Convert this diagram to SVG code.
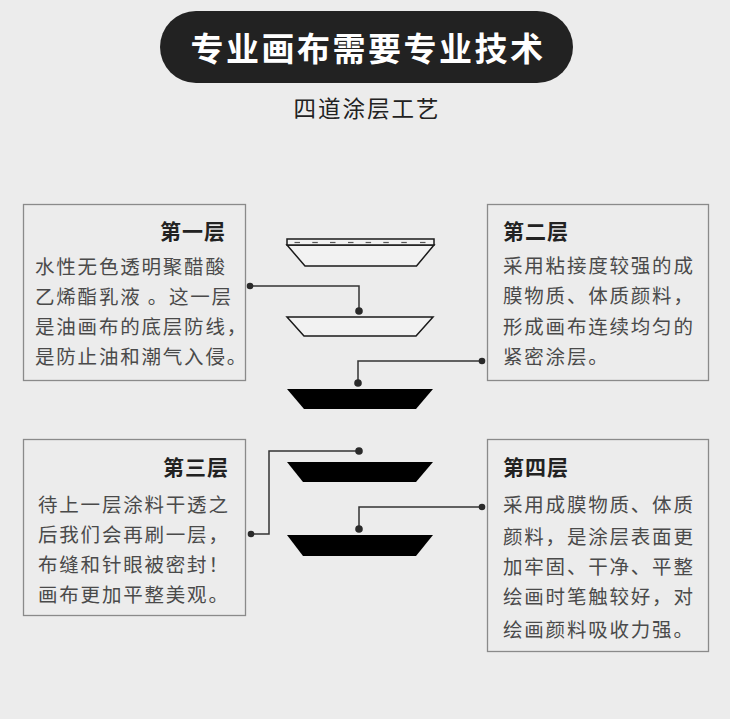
<svg xmlns="http://www.w3.org/2000/svg" width="730" height="719" viewBox="0 0 730 719">
<style>
.box{fill:none;stroke:#8a8a8a;stroke-width:1.3}
.ttl{font-family:"Noto Sans CJK SC","Noto Sans",sans-serif;font-size:21px;font-weight:bold;fill:#222;letter-spacing:1px}
.body{font-family:"Noto Sans CJK SC","Noto Sans",sans-serif;font-size:19.5px;fill:#4a4a4a;letter-spacing:1.8px}
.con{fill:none;stroke:#333;stroke-width:1.5}
.dot{fill:#2a2a2a}
.light{fill:#f2f2f2;stroke:#1a1a1a;stroke-width:1.5}
.dark{fill:#000}
</style>
<rect width="730" height="719" fill="#ececec"/>
<g id="header">
<rect x="160" y="11" width="413" height="72" rx="36" fill="#222"/>
<text x="368" y="61" text-anchor="middle" font-family="Noto Sans CJK SC,sans-serif" font-size="33" font-weight="bold" fill="#fff" letter-spacing="2.5">专业画布需要专业技术</text>
<text x="367" y="117" text-anchor="middle" font-family="Noto Sans CJK SC,sans-serif" font-size="22.5" fill="#222" letter-spacing="2">四道涂层工艺</text>
</g>
<g id="layer-stack">
<g id="shape1">
<polygon class="light" points="287,245 434,245 416.5,266 305,266"/>
<rect class="light" x="287" y="239" width="147" height="6"/>
<g stroke="#555" stroke-width="1.2">
<line x1="294.5" y1="242.5" x2="300" y2="242.5"/>
<line x1="312.3" y1="242.5" x2="317.8" y2="242.5"/>
<line x1="330" y1="242.5" x2="335.5" y2="242.5"/>
<line x1="348" y1="242.5" x2="353.5" y2="242.5"/>
<line x1="365.6" y1="242.5" x2="371.1" y2="242.5"/>
<line x1="383.3" y1="242.5" x2="388.8" y2="242.5"/>
<line x1="401.3" y1="242.5" x2="406.8" y2="242.5"/>
<line x1="420" y1="242.5" x2="425.5" y2="242.5"/>
</g>
</g>
<g id="shape2"><polygon class="light" points="287,317 433,317 416,336 304,336"/></g>
<g id="shape3"><polygon class="dark" points="287,389 433,389 416,409 304,409"/></g>
<g id="shape4"><polygon class="dark" points="287,462 433,462 416,482 303,482"/></g>
<g id="shape5"><polygon class="dark" points="287,535 433,535 416,556 303,556"/></g>
</g>
<g id="connectors">
<polyline class="con" points="250,286 359,286 359,311"/>
<circle class="dot" cx="250" cy="286" r="3.3"/>
<circle class="dot" cx="359" cy="311" r="3.8"/>
<polyline class="con" points="482,361 358,361 358,383"/>
<circle class="dot" cx="482" cy="361" r="3.3"/>
<circle class="dot" cx="358" cy="383" r="3.8"/>
<polyline class="con" points="359,451 269,451 269,534 251,534"/>
<circle class="dot" cx="359" cy="451" r="3.8"/>
<circle class="dot" cx="251" cy="534" r="3.3"/>
<polyline class="con" points="482,507 359,507 359,529"/>
<circle class="dot" cx="482" cy="507" r="3.3"/>
<circle class="dot" cx="359" cy="529" r="3.8"/>
</g>
<g id="box1">
<rect class="box" x="23.5" y="204.5" width="222" height="176"/>
<text class="ttl" x="226" y="239" text-anchor="end">第一层</text>
<text class="body" x="35" y="274">水性无色透明聚醋酸</text>
<text class="body" x="35" y="304">乙烯酯乳液 。这一层</text>
<text class="body" x="35" y="334">是油画布的底层防线，</text>
<text class="body" x="35" y="364">是防止油和潮气入侵。</text>
</g>
<g id="box2">
<rect class="box" x="487.5" y="204.5" width="221" height="176"/>
<text class="ttl" x="503" y="239">第二层</text>
<text class="body" x="503" y="273">采用粘接度较强的成</text>
<text class="body" x="503" y="303">膜物质、体质颜料，</text>
<text class="body" x="503" y="334">形成画布连续均匀的</text>
<text class="body" x="503" y="364">紧密涂层。</text>
</g>
<g id="box3">
<rect class="box" x="23.5" y="439.5" width="222" height="176"/>
<text class="ttl" x="229" y="475" text-anchor="end">第三层</text>
<text class="body" x="38" y="512">待上一层涂料干透之</text>
<text class="body" x="38" y="542">后我们会再刷一层，</text>
<text class="body" x="38" y="572">布缝和针眼被密封！</text>
<text class="body" x="38" y="602">画布更加平整美观。</text>
</g>
<g id="box4">
<rect class="box" x="487.5" y="439.5" width="221" height="212"/>
<text class="ttl" x="503" y="475">第四层</text>
<text class="body" x="503" y="512">采用成膜物质、体质</text>
<text class="body" x="503" y="544">颜料，是涂层表面更</text>
<text class="body" x="503" y="574">加牢固、干净、平整</text>
<text class="body" x="503" y="604">绘画时笔触较好，对</text>
<text class="body" x="503" y="637">绘画颜料吸收力强。</text>
</g>
</svg>
